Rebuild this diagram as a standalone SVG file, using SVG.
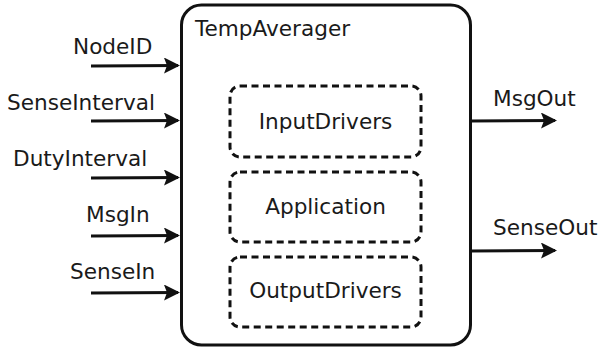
<svg xmlns="http://www.w3.org/2000/svg" width="600" height="352" viewBox="0 0 600 352">
  <defs>
    <style>
      text { font-family: "DejaVu Sans", "Liberation Sans", sans-serif; font-size: 21.6px; fill: #1a1a1a; }
      .frame { fill: #ffffff; stroke: #111111; stroke-width: 3; }
      .sub { fill: none; stroke: #111111; stroke-width: 3; stroke-dasharray: 7 4.5; }
      .wire { stroke: #111111; stroke-width: 3; fill: none; marker-end: url(#head); }
      .mid { text-anchor: middle; }
    </style>
    <marker id="head" viewBox="0 0 16 16" refX="14" refY="8" markerWidth="16" markerHeight="16" markerUnits="userSpaceOnUse" orient="auto">
      <path d="M0,0 L16,8 L0,16 L3,8 Z" fill="#111111"/>
    </marker>
  </defs>

  <!-- component frame -->
  <g id="TempAverager">
    <rect class="frame" x="181.5" y="5" width="289" height="340" rx="20" ry="20"/>
    <text x="195" y="36">TempAverager</text>
  </g>

  <!-- inner driver/application blocks -->
  <g id="InputDrivers">
    <rect class="sub" x="230" y="86" width="191" height="71" rx="10" ry="10"/>
    <text class="mid" x="325.5" y="129">InputDrivers</text>
  </g>
  <g id="Application">
    <rect class="sub" x="230" y="172" width="191" height="70" rx="10" ry="10"/>
    <text class="mid" x="325.5" y="214">Application</text>
  </g>
  <g id="OutputDrivers">
    <rect class="sub" x="230" y="257" width="191" height="70" rx="10" ry="10"/>
    <text class="mid" x="325.5" y="298">OutputDrivers</text>
  </g>

  <!-- ports -->
  <g id="connectors">
    <path class="wire" d="M91,66 L178,65.5"/>
    <path class="wire" d="M91,121 L178,120.5"/>
    <path class="wire" d="M91,178 L178,177.5"/>
    <path class="wire" d="M91,236 L178,235.5"/>
    <path class="wire" d="M91,293 L178,292.5"/>
    <path class="wire" d="M470,121 L555,120.5"/>
    <path class="wire" d="M470,251 L555,250.5"/>
  </g>

  <g id="port-labels">
    <text x="73" y="54">NodeID</text>
    <text x="7" y="110">SenseInterval</text>
    <text x="13" y="166">DutyInterval</text>
    <text x="86" y="222">MsgIn</text>
    <text x="70" y="279">SenseIn</text>
    <text x="493" y="106">MsgOut</text>
    <text x="493" y="235">SenseOut</text>
  </g>
</svg>
